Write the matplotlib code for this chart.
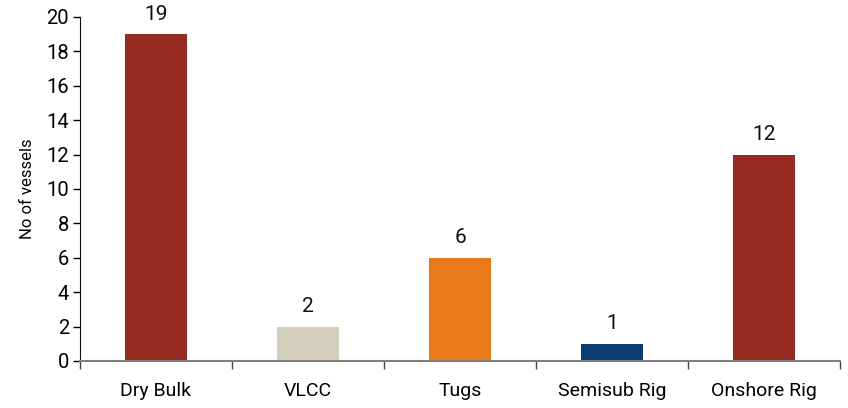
import matplotlib
matplotlib.use("Agg")
import matplotlib.pyplot as plt
from matplotlib import font_manager
import numpy as np

categories = ["Dry Bulk", "VLCC", "Tugs", "Semisub Rig", "Onshore Rig"]
vessels = [19, 2, 6, 1, 12]
colors = ["#962a21", "#d2d0bc", "#e87a1a", "#0a3d6e", "#962a21"]
yticks = list(range(0, 21, 2))

names = {f.name for f in font_manager.fontManager.ttflist}
family = "Liberation Sans Narrow" if "Liberation Sans Narrow" in names else "Roboto"
plt.rcParams["font.family"] = [family, "DejaVu Sans"]

fig = plt.figure(figsize=(8.48, 4.08), dpi=100)
ax = fig.add_axes([80 / 848, 47 / 408, 760 / 848, 344 / 408])

x = np.arange(len(categories))
ax.bar(x, vessels, width=0.41, color=colors, zorder=3)
for xi, v in zip(x, vessels):
    ax.text(xi, v + 0.6, str(v), ha="center", va="bottom", fontsize=15, color="#111111")

ax.set_xlim(-0.5, len(categories) - 0.5)
ax.set_ylim(0, 20)
ax.set_yticks(yticks)
ax.tick_params(axis="y", labelsize=14.5, length=5, width=1, direction="out", pad=3)

# category labels centred, ticks at category boundaries
ax.set_xticks(x)
ax.set_xticklabels(categories, fontsize=14)
ax.tick_params(axis="x", which="major", length=0, pad=15)
ax.set_xticks(np.arange(-0.5, len(categories)), minor=True)
ax.tick_params(axis="x", which="minor", length=6, width=1, color="#444444", direction="out")

for s in ("top", "right"):
    ax.spines[s].set_visible(False)
ax.spines["bottom"].set_color("#808080")
ax.spines["bottom"].set_linewidth(1.5)
ax.spines["bottom"].set_zorder(4)
ax.spines["left"].set_color("#111111")

ax.set_ylabel("No of vessels", fontsize=12, labelpad=8)

fig.savefig("out.png", dpi=100)
